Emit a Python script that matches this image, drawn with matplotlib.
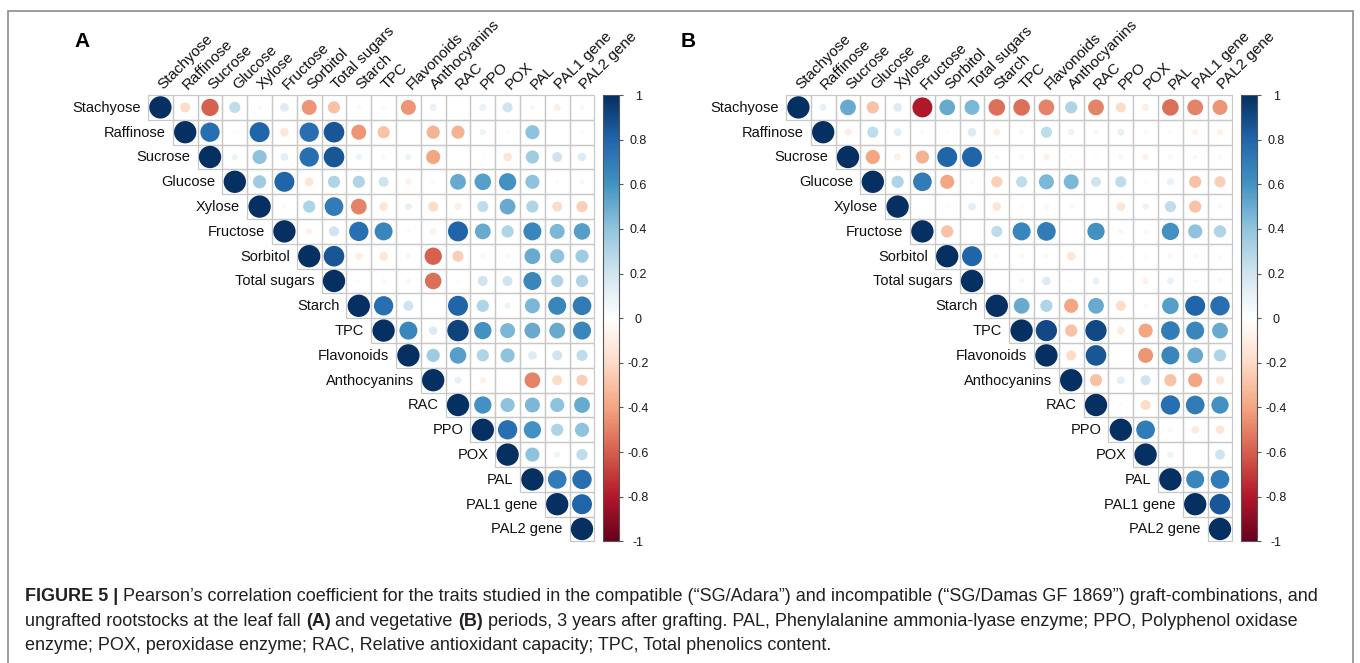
"""
Pearson correlation plots (corrplot-style upper triangles) for panels A and B
"""
import matplotlib
matplotlib.use('Agg')
import matplotlib.pyplot as plt
from matplotlib.colors import LinearSegmentedColormap, Normalize
from matplotlib.patches import Circle, Rectangle
from matplotlib.cm import ScalarMappable
import numpy as np

plt.rcParams['font.family'] = ['Liberation Sans', 'DejaVu Sans']

traits = ['Stachyose', 'Raffinose', 'Sucrose', 'Glucose', 'Xylose', 'Fructose',
          'Sorbitol', 'Total sugars', 'Starch', 'TPC', 'Flavonoids', 'Anthocyanins',
          'RAC', 'PPO', 'POX', 'PAL', 'PAL1 gene', 'PAL2 gene']

# upper triangle, row by row (values right of the diagonal)
upper_a = [
    [-0.2, -0.6, 0.25, -0.05, 0.15, -0.45, -0.3, -0.05, -0.05, -0.45, 0.1, 0.0, 0.1, 0.2, 0.05, -0.1, 0.05],
    [0.75, 0.02, 0.8, -0.15, 0.75, 0.85, -0.45, -0.3, 0.0, -0.35, -0.35, 0.08, 0.03, 0.4, 0.0, -0.03],
    [0.08, 0.4, 0.12, 0.75, 0.85, 0.08, -0.05, 0.08, -0.4, 0.0, 0.02, -0.15, 0.35, 0.2, 0.15],
    [0.35, 0.8, -0.15, 0.3, 0.3, 0.2, -0.08, -0.05, 0.5, 0.55, 0.6, 0.4, 0.03, 0.05],
    [0.02, 0.3, 0.7, -0.5, -0.15, 0.1, -0.2, -0.1, 0.25, 0.5, 0.3, -0.2, -0.25],
    [-0.08, 0.2, 0.75, 0.65, 0.03, -0.08, 0.8, 0.5, 0.3, 0.65, 0.45, 0.55],
    [0.85, -0.1, -0.15, 0.05, -0.6, -0.25, 0.05, 0.03, 0.5, 0.4, 0.35],
    [0.02, -0.05, 0.05, -0.55, -0.03, 0.2, 0.2, 0.65, 0.3, 0.3],
    [0.75, 0.2, -0.02, 0.8, 0.3, 0.08, 0.45, 0.65, 0.7],
    [0.65, 0.15, 0.92, 0.6, 0.45, 0.5, 0.5, 0.65],
    [0.35, 0.55, 0.3, 0.4, 0.15, 0.2, 0.25],
    [0.1, -0.08, -0.02, -0.5, -0.2, -0.25],
    [0.6, 0.4, 0.45, 0.4, 0.5],
    [0.75, 0.6, 0.3, 0.4],
    [0.4, 0.08, 0.25],
    [0.7, 0.75],
    [0.8],
]

upper_b = [
    [0.1, 0.5, -0.3, 0.15, -0.8, 0.5, 0.45, -0.55, -0.55, -0.5, 0.3, -0.5, -0.2, -0.1, -0.55, -0.5, -0.45],
    [-0.1, 0.25, 0.12, 0.03, 0.03, 0.15, -0.1, 0.05, 0.25, 0.08, 0.05, 0.1, -0.05, -0.03, -0.08, -0.08],
    [-0.4, -0.1, -0.35, 0.8, 0.8, 0.05, -0.05, -0.08, -0.03, -0.03, 0.05, -0.08, -0.05, 0.05, -0.05],
    [0.3, 0.7, -0.4, 0.02, -0.25, 0.25, 0.45, 0.45, 0.2, 0.25, 0.02, 0.1, -0.3, -0.25],
    [0.0, 0.02, 0.12, -0.15, 0.02, 0.05, -0.05, 0.02, -0.15, 0.08, 0.25, -0.3, -0.05],
    [-0.3, 0.0, 0.25, 0.65, 0.7, 0.0, 0.6, 0.05, -0.05, 0.6, 0.4, 0.3],
    [0.8, 0.03, -0.05, -0.05, -0.15, 0.0, -0.03, -0.03, 0.05, 0.03, -0.03],
    [0.0, 0.05, 0.15, 0.02, 0.1, -0.02, -0.08, 0.1, 0.03, -0.05],
    [0.5, 0.3, -0.4, 0.5, -0.2, -0.05, 0.55, 0.8, 0.75],
    [0.9, -0.3, 0.9, -0.12, -0.4, 0.7, 0.65, 0.5],
    [-0.2, 0.85, 0.0, -0.45, 0.65, 0.5, 0.3],
    [-0.3, 0.12, 0.2, -0.3, -0.4, -0.15],
    [-0.03, -0.2, 0.75, 0.7, 0.6],
    [0.7, -0.05, -0.12, -0.15],
    [0.08, 0.0, 0.2],
    [0.65, 0.7],
    [0.85],
]

cbar_ticks = [1, 0.8, 0.6, 0.4, 0.2, 0, -0.2, -0.4, -0.6, -0.8, -1]

# corrplot COL2('RdBu')
rdbu = ["#67001F", "#B2182B", "#D6604D", "#F4A582", "#FDDBC7", "#FFFFFF",
        "#D1E5F0", "#92C5DE", "#4393C3", "#2166AC", "#053061"]
cmap = LinearSegmentedColormap.from_list('corr_rdbu', rdbu, N=200)
norm = Normalize(-1, 1)

W, H = 1360, 663
CELL = 24.8
TOP = 95
fig = plt.figure(figsize=(W / 100, H / 100), dpi=100)


def fx(px):
    return px / W


def fy(py):
    return 1 - py / H


def full_matrix(upper):
    n = len(traits)
    m = np.eye(n)
    for i, row in enumerate(upper):
        for k, v in enumerate(row):
            m[i, i + 1 + k] = v
            m[i + 1 + k, i] = v
    return m


def corr_panel(left_px, mat, letter, letter_px):
    n = len(traits)
    side = n * CELL
    ax = fig.add_axes([fx(left_px), fy(TOP + side), side / W, side / H])
    ax.set_xlim(0, n)
    ax.set_ylim(n, 0)
    ax.axis('off')
    for i in range(n):
        for j in range(i, n):
            ax.add_patch(Rectangle((j, i), 1, 1, fill=False, edgecolor='#c8c8c8',
                                   linewidth=0.9, clip_on=False))
            r = mat[i, j]
            ax.add_patch(Circle((j + 0.5, i + 0.5), 0.45 * np.sqrt(abs(r)),
                                facecolor=cmap(norm(r)), edgecolor='none', clip_on=False))
        ax.text(i - 0.28, i + 0.52, traits[i], ha='right', va='center',
                fontsize=10.5, color='#111111')
        ax.text(i + 0.62, -0.22, traits[i], rotation=45, rotation_mode='anchor',
                ha='left', va='baseline', fontsize=11, color='#111111')

    # colour legend
    cax = fig.add_axes([fx(left_px + side + 9), fy(TOP + side), 16 / W, side / H])
    cb = fig.colorbar(ScalarMappable(norm=norm, cmap=cmap), cax=cax, ticks=cbar_ticks)
    cb.ax.set_yticklabels([f'{t:g}' for t in cbar_ticks])
    cb.outline.set_edgecolor('#555555')
    cb.outline.set_linewidth(0.8)
    cb.ax.tick_params(length=3, width=0.8, color='#555555', pad=10.5,
                      labelsize=9, labelcolor='#1a1a1a')
    for lbl in cb.ax.get_yticklabels():
        lbl.set_ha('center')

    fig.text(fx(letter_px), fy(47), letter, fontsize=15, fontweight='bold',
             va='baseline', ha='left')


corr_panel(148, full_matrix(upper_a), 'A', 74)
corr_panel(786, full_matrix(upper_b), 'B', 681)

# outer frame
fig.add_artist(Rectangle((fx(8), fy(H + 20)), fx(1353) - fx(8), fy(11) - fy(H + 20),
                         transform=fig.transFigure, fill=False, edgecolor='#8c8c8c',
                         linewidth=1.2))

# caption
cap_family = ['Liberation Sans Narrow', 'Liberation Sans', 'DejaVu Sans']
renderer = fig.canvas.get_renderer()

caption = [
    [('FIGURE 5 | ', 'bold'),
     ('Pearson\u2019s correlation coefficient for the traits studied in the compatible '
      '(\u201cSG/Adara\u201d) and incompatible (\u201cSG/Damas GF 1869\u201d) '
      'graft-combinations, and', 'normal')],
    [('ungrafted rootstocks at the leaf fall ', 'normal'), ('(A)', 'bold'),
     (' and vegetative ', 'normal'), ('(B)', 'bold'),
     (' periods, 3 years after grafting. PAL, Phenylalanine ammonia-lyase enzyme; '
      'PPO, Polyphenol oxidase', 'normal')],
    [('enzyme; POX, peroxidase enzyme; RAC, Relative antioxidant capacity; '
      'TPC, Total phenolics content.', 'normal')],
]
baselines = [601, 625.5, 649.5]


def text_width(s, size, weight):
    t = fig.text(0, 0, s + 'x', fontsize=size, fontweight=weight, family=cap_family)
    t2 = fig.text(0, 0, 'x', fontsize=size, fontweight=weight, family=cap_family)
    w = t.get_window_extent(renderer).width - t2.get_window_extent(renderer).width
    t.remove()
    t2.remove()
    return w


w10 = sum(text_width(s, 10, wt) for s, wt in caption[0])
cap_size = 10 * (1320 - 25) / w10

for parts, base in zip(caption, baselines):
    x = 25
    for s, wt in parts:
        fig.text(fx(x), fy(base), s, fontsize=cap_size, fontweight=wt, family=cap_family,
                 va='baseline', ha='left', color='#231f20')
        x += text_width(s, cap_size, wt)

fig.savefig('out.png', dpi=100)
plt.close('all')
